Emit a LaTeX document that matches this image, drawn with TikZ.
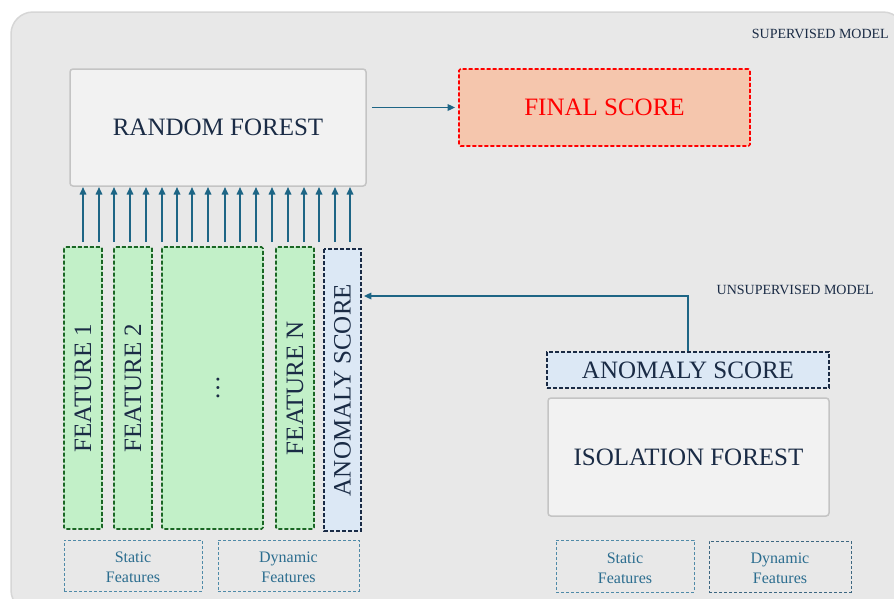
\documentclass[tikz,border=0pt]{standalone}
\usepackage{fontspec}
\setmainfont{Liberation Serif}
\usetikzlibrary{arrows.meta}
\definecolor{bgfill}{HTML}{E8E8E8}
\definecolor{bgline}{HTML}{D6D6D6}
\definecolor{boxfill}{HTML}{F2F2F2}
\definecolor{boxline}{HTML}{C4C4C4}
\definecolor{arrc}{HTML}{1D6585}
\definecolor{navy}{HTML}{1A2B45}
\definecolor{gfill}{HTML}{C2F0C8}
\definecolor{gline}{HTML}{1A6624}
\definecolor{afill}{HTML}{DCE8F5}
\definecolor{ffill}{HTML}{F5C6AD}
\definecolor{fline}{HTML}{FF0000}
\definecolor{sline}{HTML}{4F8AA8}
\definecolor{stext}{HTML}{2B6D8F}
\definecolor{dline}{HTML}{3D6680}
\tikzset{
  bigfont/.style={font=\fontsize{25}{29}\selectfont},
  modelbox/.style={draw=boxline, fill=boxfill, line width=1.5pt, rounded corners=3pt, inner sep=0pt, text=navy, bigfont},
  featbox/.style={draw=gline, fill=gfill, dashed, dash pattern=on 4pt off 2pt, line width=1.7pt, rounded corners=1.5pt, inner sep=0pt, text=navy, bigfont, rotate=90},
  anombox/.style={draw=navy, fill=afill, dashed, dash pattern=on 4pt off 2pt, line width=1.7pt, inner sep=0pt, text=navy, bigfont},
  finalbox/.style={draw=fline, fill=ffill, dashed, dash pattern=on 4pt off 2pt, line width=1.7pt, rounded corners=1.5pt, inner sep=0pt, text=fline, bigfont},
  srcbox/.style={draw=sline, dashed, dash pattern=on 3pt off 2pt, line width=1pt, inner sep=0pt},
  srctext/.style={text=stext, align=center, inner sep=0pt, font=\fontsize{16}{20}\selectfont},
  arr/.style={draw=arrc, line width=1.6pt, -{Triangle[length=7.5pt,width=6.5pt]}},
  modellabel/.style={text=navy, font=\fontsize{14}{16}\selectfont, inner sep=0pt}
}
\begin{document}
\begin{tikzpicture}[x=1pt,y=-1pt]
\useasboundingbox (0,0) rectangle (894,598);
\begin{scope}
\clip (0,0) rectangle (894,598);
\draw[fill=bgfill, draw=bgline, line width=1.5pt, rounded corners=22pt] (11,12) rectangle (905,612);
\end{scope}

\node[modellabel, anchor=east] (sup) at (889,33.5) {SUPERVISED MODEL};
\node[modellabel, anchor=east] (unsup) at (874,289.5) {UNSUPERVISED MODEL};

\node[modelbox, minimum width=296pt, minimum height=117pt] (rf) at (218,127.5) {RANDOM FOREST};
\node[finalbox, minimum width=291pt, minimum height=77pt] (fs) at (604.5,107.5) {FINAL SCORE};
\draw[arr] ([xshift=5pt]rf.east |- fs.west) -- ([xshift=-3pt]fs.west);

\node[featbox, minimum width=282pt, minimum height=38pt] (f1) at (83,388) {FEATURE 1};
\node[featbox, minimum width=282pt, minimum height=38pt] (f2) at (133,388) {FEATURE 2};
\node[featbox, minimum width=282pt, minimum height=101pt] (fd) at (212.5,388) {};
\node[text=navy, bigfont, rotate=90, anchor=base, inner sep=0pt] (dots) at (219,388) {\dots};
\node[featbox, minimum width=282pt, minimum height=38pt] (fn) at (295,388) {FEATURE N};
\node[anombox, rotate=90, minimum width=282pt, minimum height=37pt] (as1) at (342.5,390) {ANOMALY SCORE};

\foreach \x in {83,99,114,130,146,162,177,192,208,225,240,256,272,288,304,319,335,350}
  \draw[arr] (\x,242) -- (\x,187);

\node[srcbox, minimum width=138pt, minimum height=51pt] (s1) at (133,565.5) {};
\node[srctext] at ([yshift=-2pt]s1.center) {Static\\Features};
\node[srcbox, minimum width=141pt, minimum height=51pt] (d1) at (288.5,565.5) {};
\node[srctext] at ([yshift=-2pt]d1.center) {Dynamic\\Features};

\node[anombox, minimum width=282pt, minimum height=36pt] (as2) at (688,370) {ANOMALY SCORE};
\node[modelbox, minimum width=281pt, minimum height=118pt] (if) at (688.5,457) {ISOLATION FOREST};
\coordinate (bend) at (688,296);
\draw[arr] (as2.north) -- (bend) -- ([xshift=2pt]as1.south |- bend);

\node[srcbox, minimum width=138pt, minimum height=52pt] (s2) at (625,566) {};
\node[srctext] at ([yshift=-2pt]s2.center) {Static\\Features};
\node[srcbox, draw=dline, minimum width=142pt, minimum height=51pt] (d2) at (780,566.5) {};
\node[srctext] at ([yshift=-2pt]d2.center) {Dynamic\\Features};
\end{tikzpicture}
\end{document}
